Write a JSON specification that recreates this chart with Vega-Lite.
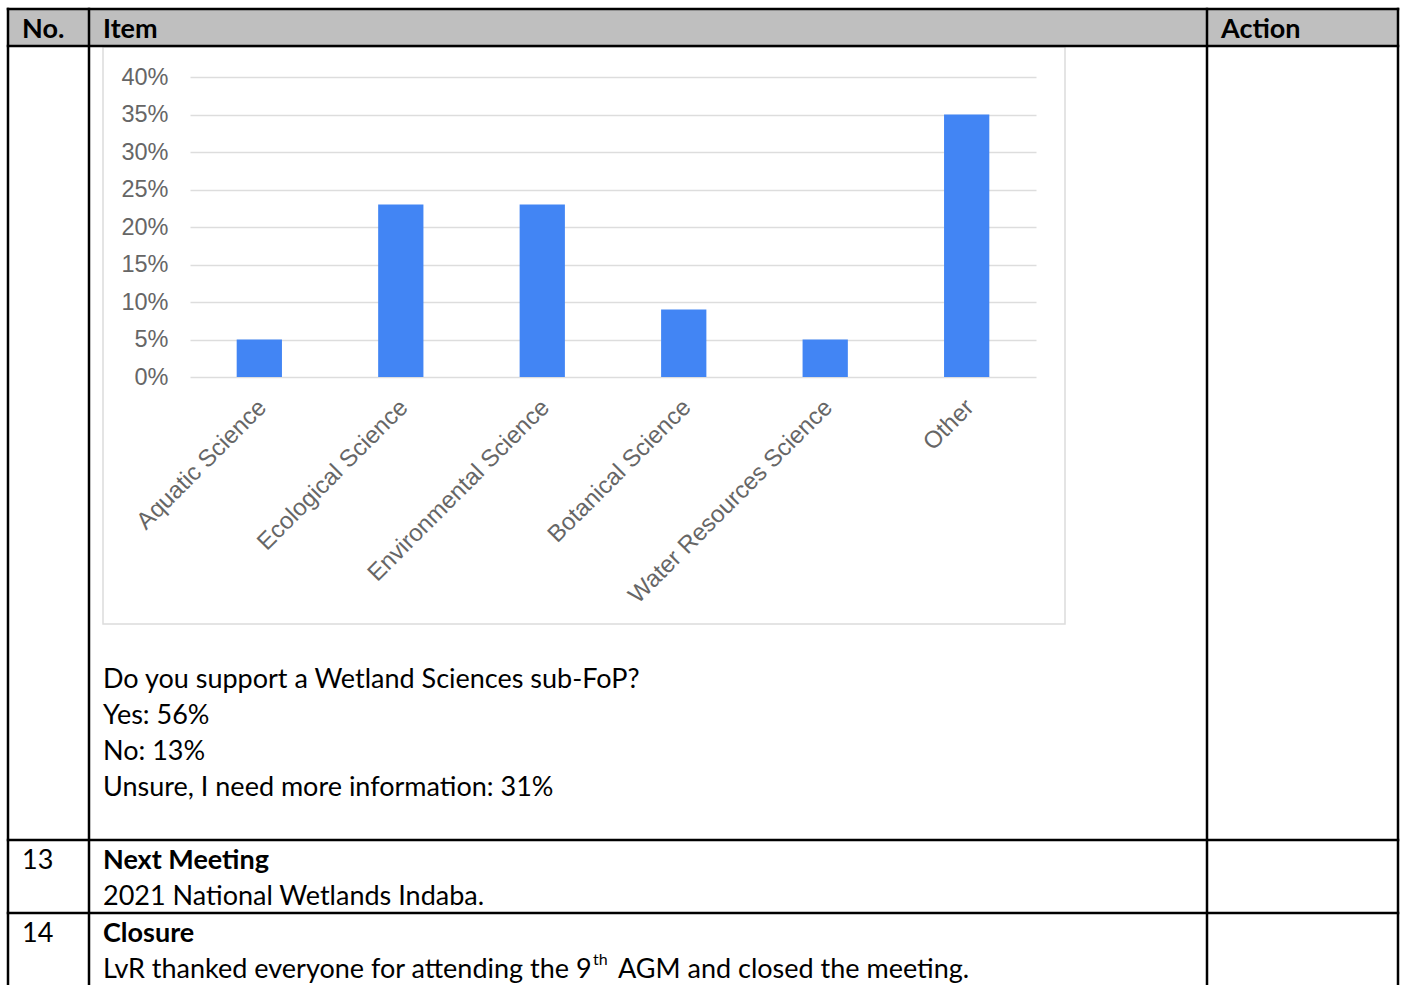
{
  "$schema": "https://vega.github.io/schema/vega-lite/v6.json",
  "width": 846,
  "height": 300,
  "autosize": {"type": "none"},
  "padding": {"left": 190, "top": 77, "right": 366, "bottom": 608},
  "background": "white",
  "config": {"view": {"stroke": null}},
  "datasets": {
    "survey": [
      {"field": "Aquatic Science", "pct": 0.05},
      {"field": "Ecological Science", "pct": 0.23},
      {"field": "Environmental Science", "pct": 0.23},
      {"field": "Botanical Science", "pct": 0.09},
      {"field": "Water Resources Science", "pct": 0.05},
      {"field": "Other", "pct": 0.35}
    ],
    "header": [{"x": 8, "x2": 1398, "y": 9, "y2": 46}],
    "frame": [{"x": 103, "x2": 1065, "y": 47, "y2": 624}],
    "lines": [
      {"x": 8, "x2": 1398, "y": 9, "y2": 9},
      {"x": 8, "x2": 1398, "y": 46, "y2": 46},
      {"x": 8, "x2": 1398, "y": 840, "y2": 840},
      {"x": 8, "x2": 1398, "y": 913, "y2": 913},
      {"x": 8, "x2": 8, "y": 9, "y2": 990},
      {"x": 89, "x2": 89, "y": 9, "y2": 990},
      {"x": 1207, "x2": 1207, "y": 9, "y2": 990},
      {"x": 1398, "x2": 1398, "y": 9, "y2": 990}
    ],
    "textBold": [
      {"t": "No.", "x": 22, "y": 30},
      {"t": "Item", "x": 103, "y": 30},
      {"t": "Action", "x": 1221, "y": 30},
      {"t": "Next Meeting", "x": 103, "y": 861},
      {"t": "Closure", "x": 103, "y": 934}
    ],
    "textRegular": [
      {"t": "Do you support a Wetland Sciences sub-FoP?", "x": 103, "y": 680},
      {"t": "Yes: 56%", "x": 103, "y": 716},
      {"t": "No: 13%", "x": 103, "y": 752},
      {"t": "Unsure, I need more information: 31%", "x": 103, "y": 788},
      {"t": "13", "x": 22, "y": 861},
      {"t": "2021 National Wetlands Indaba.", "x": 103, "y": 897},
      {"t": "14", "x": 22, "y": 934},
      {"t": "LvR thanked everyone for attending the 9", "x": 103, "y": 970},
      {"t": "AGM and closed the meeting.", "x": 618, "y": 970}
    ],
    "textSup": [
      {"t": "th", "x": 593, "y": 960}
    ]
  },
  "layer": [
    {
      "data": {"name": "header"},
      "mark": {"type": "rect", "fill": "#bfbfbf"},
      "encoding": {
        "x": {"field": "x", "type": "quantitative", "scale": {"domain": [0, 1402], "range": [-190, 1212], "nice": false, "zero": false}, "axis": null},
        "x2": {"field": "x2"},
        "y": {"field": "y", "type": "quantitative", "scale": {"domain": [0, 985], "range": [-77, 908], "nice": false, "zero": false}, "axis": null},
        "y2": {"field": "y2"}
      }
    },
    {
      "data": {"name": "frame"},
      "mark": {"type": "rect", "fill": "transparent", "stroke": "#dcdcdc", "strokeWidth": 1.5},
      "encoding": {
        "x": {"field": "x", "type": "quantitative", "scale": {"domain": [0, 1402], "range": [-190, 1212], "nice": false, "zero": false}, "axis": null},
        "x2": {"field": "x2"},
        "y": {"field": "y", "type": "quantitative", "scale": {"domain": [0, 985], "range": [-77, 908], "nice": false, "zero": false}, "axis": null},
        "y2": {"field": "y2"}
      }
    },
    {
      "data": {"name": "survey"},
      "mark": {"type": "bar", "color": "#4285f4"},
      "encoding": {
        "x": {
          "field": "field", "type": "nominal", "sort": null,
          "scale": {"paddingInner": 0.68, "paddingOuter": 0.33},
          "axis": {
            "title": null, "labelAngle": -45, "labelFont": "Liberation Sans", "labelFontSize": 24,
            "labelColor": "#666666", "ticks": false, "tickSize": 0, "domain": false,
            "labelPadding": 18, "labelOffset": -5, "labelLimit": 500, "grid": false
          }
        },
        "y": {
          "field": "pct", "type": "quantitative",
          "scale": {"domain": [0, 0.4], "nice": false},
          "axis": {
            "title": null, "format": ".0%", "values": [0, 0.05, 0.1, 0.15, 0.2, 0.25, 0.3, 0.35, 0.4],
            "grid": true, "gridColor": "#dddddd", "gridWidth": 1.5, "domain": false, "ticks": false, "tickSize": 0,
            "labelPadding": 22, "labelFont": "Liberation Sans", "labelFontSize": 23.5, "labelColor": "#666666"
          }
        }
      }
    },
    {
      "data": {"name": "lines"},
      "mark": {"type": "rule", "color": "black", "strokeWidth": 2.5, "strokeCap": "square"},
      "encoding": {
        "x": {"field": "x", "type": "quantitative", "scale": {"domain": [0, 1402], "range": [-190, 1212], "nice": false, "zero": false}, "axis": null},
        "x2": {"field": "x2"},
        "y": {"field": "y", "type": "quantitative", "scale": {"domain": [0, 985], "range": [-77, 908], "nice": false, "zero": false}, "axis": null},
        "y2": {"field": "y2"}
      }
    },
    {
      "data": {"name": "textBold"},
      "mark": {"type": "text", "align": "left", "baseline": "middle", "font": "Lato", "fontWeight": "bold", "fontSize": 27, "color": "black"},
      "encoding": {
        "text": {"field": "t"},
        "x": {"field": "x", "type": "quantitative", "scale": {"domain": [0, 1402], "range": [-190, 1212], "nice": false, "zero": false}, "axis": null},
        "y": {"field": "y", "type": "quantitative", "scale": {"domain": [0, 985], "range": [-77, 908], "nice": false, "zero": false}, "axis": null}
      }
    },
    {
      "data": {"name": "textRegular"},
      "mark": {"type": "text", "align": "left", "baseline": "middle", "font": "Lato", "fontSize": 27, "color": "black"},
      "encoding": {
        "text": {"field": "t"},
        "x": {"field": "x", "type": "quantitative", "scale": {"domain": [0, 1402], "range": [-190, 1212], "nice": false, "zero": false}, "axis": null},
        "y": {"field": "y", "type": "quantitative", "scale": {"domain": [0, 985], "range": [-77, 908], "nice": false, "zero": false}, "axis": null}
      }
    },
    {
      "data": {"name": "textSup"},
      "mark": {"type": "text", "align": "left", "baseline": "middle", "font": "Lato", "fontSize": 16, "color": "black"},
      "encoding": {
        "text": {"field": "t"},
        "x": {"field": "x", "type": "quantitative", "scale": {"domain": [0, 1402], "range": [-190, 1212], "nice": false, "zero": false}, "axis": null},
        "y": {"field": "y", "type": "quantitative", "scale": {"domain": [0, 985], "range": [-77, 908], "nice": false, "zero": false}, "axis": null}
      }
    }
  ],
  "resolve": {"scale": {"x": "independent", "y": "independent"}, "axis": {"x": "independent", "y": "independent"}}
}
